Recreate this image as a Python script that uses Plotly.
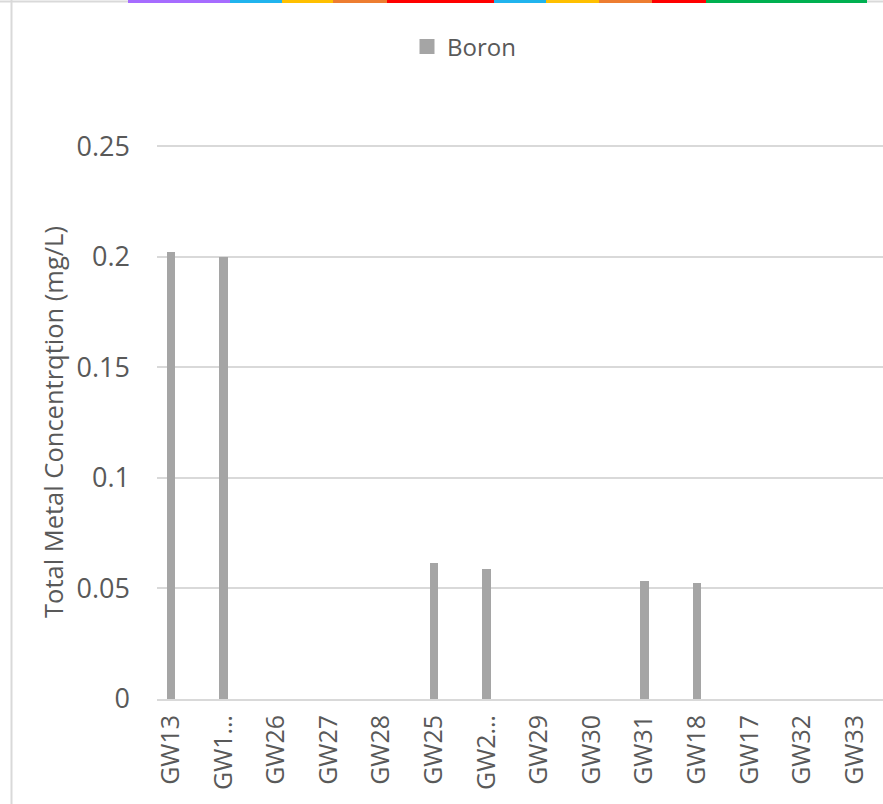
import plotly.graph_objects as go

categories = ["GW13", "GW1…", "GW26", "GW27", "GW28", "GW25", "GW2…",
              "GW29", "GW30", "GW31", "GW18", "GW17", "GW32", "GW33"]
boron = [0.202, 0.200, 0, 0, 0, 0.0613, 0.0586, 0, 0, 0.0535, 0.0526, 0, 0, 0]
y_ticks = [0, 0.05, 0.1, 0.15, 0.2, 0.25]
y_tick_labels = ["0", "0.05", "0.1", "0.15", "0.2", "0.25"]

W, H = 883, 804
L, R, T, B = 157, 0, 145, 105
PW, PH = W - L - R, H - T - B
FONT = "Open Sans"
GREY = "#595959"
BAR = "#a5a5a5"


def px(x):
    return (x - L) / PW


def py(y):
    return (H - B - y) / PH


strip = [(128, 230, "#a66cff"), (230, 282, "#20b4ee"), (282, 333, "#ffc000"),
         (333, 387, "#ed7d31"), (387, 494, "#ff0000"), (494, 546, "#20b4ee"),
         (546, 599, "#ffc000"), (599, 652, "#ed7d31"), (652, 706, "#ff0000"),
         (706, 867, "#00b050")]

shapes = []
shapes.append(dict(type="line", xref="paper", yref="paper", x0=px(0), x1=px(W), y0=py(1.5), y1=py(1.5),
                   line=dict(color="#d9d9d9", width=2)))
shapes.append(dict(type="line", xref="paper", yref="paper", x0=px(11.5), x1=px(11.5), y0=py(0), y1=py(H),
                   line=dict(color="#d9d9d9", width=2)))
for x0, x1, c in strip:
    shapes.append(dict(type="rect", xref="paper", yref="paper", x0=px(x0), x1=px(x1), y0=py(0), y1=py(3),
                       line=dict(width=0), fillcolor=c))

fig = go.Figure()
fig.add_trace(go.Bar(x=categories, y=boron, name="Boron", width=0.165, showlegend=False,
                     marker=dict(color=BAR, line=dict(width=0))))
fig.add_trace(go.Scatter(x=[None], y=[None], mode="markers", name="Boron",
                         marker=dict(symbol="square", size=15, color=BAR)))

fig.update_layout(
    width=W, height=H,
    margin=dict(l=L, r=R, t=T, b=B, pad=0),
    paper_bgcolor="white", plot_bgcolor="white",
    font=dict(family=FONT, size=25, color=GREY),
    showlegend=True,
    legend=dict(orientation="h", x=px(407), xanchor="left", y=py(47), yanchor="middle",
                font=dict(size=24, color=GREY), itemwidth=30, bgcolor="rgba(0,0,0,0)"),
    shapes=shapes,
    bargap=0,
)
fig.update_xaxes(type="category", range=[-0.266, 13.54], tickangle=-90, showgrid=False,
                 showline=True, linecolor="#d9d9d9", linewidth=2, ticks="",
                 automargin=False,
                 tickfont=dict(size=25, color=GREY, family=FONT), ticklabelstandoff=4)
fig.update_yaxes(range=[0, 0.2505], tickvals=y_ticks, ticktext=y_tick_labels, showgrid=True,
                 gridcolor="#d9d9d9", gridwidth=2, zeroline=False, showline=False, ticks="",
                 automargin=False,
                 tickfont=dict(size=27, color=GREY), ticklabelstandoff=26,
                 title=dict(text="Total Metal Concentrqtion (mg/L)", font=dict(size=25.5, color=GREY),
                            standoff=5))

fig.write_html("out.html", config={"displayModeBar": False},
               post_script="document.body.style.margin='0';")
